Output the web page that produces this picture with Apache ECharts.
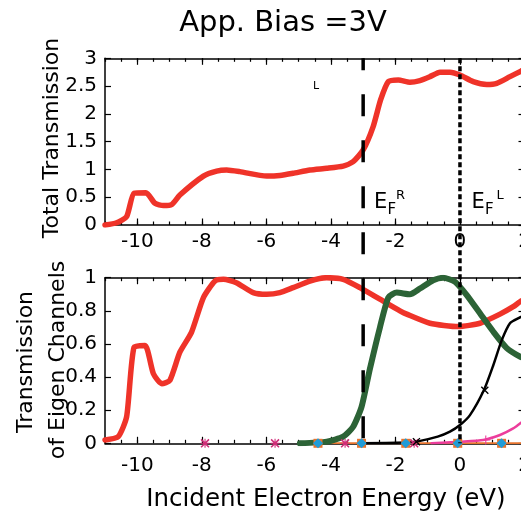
<!DOCTYPE html>
<html><head><meta charset="utf-8">
<script src="https://cdn.jsdelivr.net/npm/echarts@6/dist/echarts.min.js"></script>
<style>html,body{margin:0;padding:0;background:#fff}#c{width:521px;height:515px}</style>
</head><body><div id="c"></div>
<script>
// ---- tick labels ----
const xTickLabels = [-10, -8, -6, -4, -2, 0, 2];
const xRange = [-11, 2];
const topYRange = [0, 3];
const botYRange = [0, 1];

// ---- total transmission (top panel) ----
const totalX = [-11,-10.64,-10.33,-10.1,-9.73,-9.45,-9.19,-8.93,-8.68,-7.95,-7.54,-7.23,-6.82,-5.99,-5.58,-5.17,-4.65,-4.13,-3.62,-3.31,-3.0,-2.69,-2.46,-2.22,-1.91,-1.55,-1.24,-0.93,-0.62,-0.31,0,0.41,0.83,1.14,1.55,1.89,2];
const totalY = [0,0.04,0.15,0.57,0.58,0.39,0.35,0.37,0.54,0.88,0.97,0.99,0.96,0.88,0.89,0.93,0.99,1.02,1.06,1.14,1.35,1.77,2.25,2.58,2.61,2.57,2.6,2.67,2.75,2.75,2.7,2.58,2.53,2.55,2.67,2.77,2.8];

// ---- eigen channels (bottom panel) ----
const ch1X = [-11,-10.59,-10.33,-10.1,-9.76,-9.5,-9.24,-8.99,-8.68,-8.32,-7.95,-7.59,-7.33,-6.93,-6.41,-5.99,-5.58,-5.17,-4.65,-4.13,-3.62,-3.1,-2.48,-1.86,-1.65,-0.93,-0.05,0.62,1.24,1.65,1.86,2];
const ch1Y = [0.02,0.04,0.16,0.58,0.59,0.42,0.36,0.38,0.55,0.67,0.88,0.98,0.99,0.97,0.91,0.90,0.91,0.94,0.98,1.0,0.99,0.94,0.87,0.80,0.78,0.725,0.705,0.725,0.78,0.825,0.855,0.87];
const ch2X = [-4.96,-4.13,-3.62,-3.31,-3.05,-2.79,-2.48,-2.22,-1.96,-1.55,-1.24,-0.83,-0.52,-0.15,0.21,0.62,1.03,1.45,1.86,2];
const ch2Y = [0,0.01,0.04,0.10,0.22,0.45,0.70,0.88,0.91,0.90,0.935,0.985,1.0,0.975,0.895,0.785,0.675,0.575,0.523,0.515];
const ch3X = [-3.0,-1.65,-1.34,-0.69,-0.31,0,0.31,0.74,1.03,1.29,1.55,1.86,2];
const ch3Y = [0,0.005,0.01,0.04,0.07,0.11,0.17,0.32,0.47,0.62,0.725,0.76,0.775];
const ch4X = [-0.88,0,0.72,1.24,1.65,1.86,2];
const ch4Y = [0,0.01,0.02,0.05,0.09,0.12,0.14];
const ch5X = [-4.4,2];
const ch5Y = [0,0];
const squareX = [-4.4,-3.05,-1.68,-0.07,1.29];
const squareY = [0,0,0,0,0];
const asteriskX = [-7.9,-5.73,-3.56,-1.42];
const asteriskY = [0,0,0,0];
const crossX = [-1.35,0.77];
const crossY = [0.01,0.32];
const plusX = [0.8];
const plusY = [0.02];

// ---- Fermi levels ----
const efRight = -3;
const efLeft = 0;

const zip = (a, b) => a.map((v, i) => [v, b[i]]);
const FONT = 'DejaVu Sans';

function xAxesFor(grid, labelMargin) {
  const base = {type: 'value', gridIndex: grid, min: xRange[0], max: xRange[1], splitLine: {show: false}};
  return [
    Object.assign({}, base, {position: 'bottom',
      axisLine: {show: true, onZero: false, lineStyle: {color: '#000', width: 1.5}},
      axisTick: {show: true, inside: true, length: 6.5, customValues: xTickLabels, lineStyle: {color: '#000', width: 1.2}},
      axisLabel: {show: true, customValues: xTickLabels, margin: labelMargin, fontSize: 20, fontFamily: FONT, color: '#000'}}),
    Object.assign({}, base, {position: 'bottom', interval: 0.5,
      axisLine: {show: false, onZero: false},
      axisTick: {show: true, inside: true, length: 3.5, lineStyle: {color: '#000', width: 1.2}},
      axisLabel: {show: false}}),
    Object.assign({}, base, {position: 'top',
      axisLine: {show: true, onZero: false, lineStyle: {color: '#000', width: 1.5}},
      axisTick: {show: true, inside: true, length: 6.5, customValues: xTickLabels, lineStyle: {color: '#000', width: 1.2}},
      axisLabel: {show: false}}),
    Object.assign({}, base, {position: 'top', interval: 0.5,
      axisLine: {show: false, onZero: false},
      axisTick: {show: true, inside: true, length: 3.5, lineStyle: {color: '#000', width: 1.2}},
      axisLabel: {show: false}})
  ];
}
function yAxesFor(grid, range, interval) {
  const base = {type: 'value', gridIndex: grid, min: range[0], max: range[1], interval: interval, splitLine: {show: false}};
  return [
    Object.assign({}, base, {position: 'left',
      axisLine: {show: true, onZero: false, lineStyle: {color: '#000', width: 1.5}},
      axisTick: {show: true, inside: true, length: 6, lineStyle: {color: '#000', width: 1.2}},
      axisLabel: {show: true, margin: 8, fontSize: 20, fontFamily: FONT, color: '#000'}}),
    Object.assign({}, base, {position: 'right',
      axisLine: {show: true, onZero: false, lineStyle: {color: '#000', width: 1.5}},
      axisTick: {show: true, inside: true, length: 6, lineStyle: {color: '#000', width: 1.2}},
      axisLabel: {show: false}})
  ];
}

const P_CROSS = 'path://M0,1.2 L1.2,0 L10,8.8 L8.8,10 Z M8.8,0 L10,1.2 L1.2,10 L0,8.8 Z';
const P_PLUS = 'path://M4.4,0 L5.6,0 L5.6,10 L4.4,10 Z M0,4.4 L10,4.4 L10,5.6 L0,5.6 Z';
const P_AST = 'path://M0,1.2 L1.2,0 L10,8.8 L8.8,10 Z M8.8,0 L10,1.2 L1.2,10 L0,8.8 Z M4.4,0 L5.6,0 L5.6,10 L4.4,10 Z M0,4.4 L10,4.4 L10,5.6 L0,5.6 Z';

function line(data, color, width, xi, yi, z) {
  return {type: 'line', data: data, xAxisIndex: xi, yAxisIndex: yi, symbol: 'none', smooth: 0.2,
    lineStyle: {color: color, width: width, cap: 'round', join: 'round'}, z: z, silent: true, animation: false};
}
function markers(data, symbol, size, color, xi, yi, z) {
  return {type: 'scatter', data: data, xAxisIndex: xi, yAxisIndex: yi, symbol: symbol, symbolSize: size,
    itemStyle: {color: color, opacity: 1}, z: z, silent: true, animation: false};
}

const RED = '#ef3329', GREEN = '#2c6336', PINK = '#ec3d9c', ORANGE = '#e8742e', BLUE = '#1f9cd8', AST = '#d12c78';

const option = {
  animation: false,
  backgroundColor: '#fff',
  grid: [
    {left: 105, right: -3.5, top: 58.3, bottom: 290, containLabel: false, outerBoundsMode: 'none'},
    {left: 105, right: -3.5, top: 277.7, bottom: 71.7, containLabel: false, outerBoundsMode: 'none'},
    {left: 105, right: -3.5, top: 58.3, bottom: 71.7, containLabel: false, outerBoundsMode: 'none'}
  ],
  xAxis: [].concat(xAxesFor(0, 7), xAxesFor(1, 12), [{type: 'value', gridIndex: 2, min: xRange[0], max: xRange[1], show: false}]),
  yAxis: [].concat(yAxesFor(0, topYRange, 0.5), yAxesFor(1, botYRange, 0.2), [{type: 'value', gridIndex: 2, min: 0, max: 1, show: false}]),
  series: [
    line(zip(totalX, totalY), RED, 5.5, 0, 0, 3),
    {type: 'line', data: zip(ch5X, ch5Y), xAxisIndex: 4, yAxisIndex: 2, symbol: 'none', lineStyle: {color: ORANGE, width: 2}, z: 2, silent: true},
    line(zip(ch1X, ch1Y), RED, 5.5, 4, 2, 3),
    line(zip(ch2X, ch2Y), GREEN, 6, 4, 2, 4),
    line(zip(ch3X, ch3Y), '#000', 2.5, 4, 2, 5),
    line(zip(ch4X, ch4Y), PINK, 2.5, 4, 2, 5),
    markers(zip(asteriskX, asteriskY), P_AST, 9, AST, 4, 2, 6),
    markers(zip(crossX, crossY), P_CROSS, 8, '#000', 4, 2, 6),
    markers(zip(plusX, plusY), P_PLUS, 9, PINK, 4, 2, 6),
    markers(zip(squareX, squareY), 'rect', 9, ORANGE, 4, 2, 7),
    markers(zip(squareX, squareY), 'diamond', 10, BLUE, 4, 2, 8),
    {type: 'line', data: [[efRight, 1], [efRight, 0]], xAxisIndex: 8, yAxisIndex: 4, symbol: 'none',
      lineStyle: {color: '#000', width: 3.5, type: [22, 24], dashOffset: 10, cap: 'butt'}, z: 9, silent: true},
    {type: 'line', data: [[efLeft, 1], [efLeft, 0]], xAxisIndex: 8, yAxisIndex: 4, symbol: 'none',
      lineStyle: {color: '#000', width: 3.5, type: [5, 3], cap: 'butt'}, z: 9, silent: true}
  ],
  graphic: [
    {type: 'text', x: 283, y: 23, style: {text: 'App. Bias =3V', font: '29px "DejaVu Sans"', fill: '#000', textAlign: 'center', textVerticalAlign: 'middle'}},
    {type: 'text', x: 52, y: 138, rotation: Math.PI / 2, style: {text: 'Total Transmission', font: '22px "DejaVu Sans"', fill: '#000', textAlign: 'center', textVerticalAlign: 'middle'}},
    {type: 'text', x: 26.5, y: 362, rotation: Math.PI / 2, style: {text: 'Transmission', font: '22px "DejaVu Sans"', fill: '#000', textAlign: 'center', textVerticalAlign: 'middle'}},
    {type: 'text', x: 58, y: 360, rotation: Math.PI / 2, style: {text: 'of Eigen Channels', font: '22px "DejaVu Sans"', fill: '#000', textAlign: 'center', textVerticalAlign: 'middle'}},
    {type: 'text', x: 326, y: 500, style: {text: 'Incident Electron Energy (eV)', font: '24.5px "DejaVu Sans"', fill: '#000', textAlign: 'center', textVerticalAlign: 'middle'}},
    {type: 'text', x: 374, y: 202.7, style: {text: 'E', font: '21px "DejaVu Sans"', fill: '#000', textAlign: 'left', textVerticalAlign: 'middle'}},
    {type: 'text', x: 387.5, y: 210.2, style: {text: 'F', font: '15px "DejaVu Sans"', fill: '#000', textAlign: 'left', textVerticalAlign: 'middle'}},
    {type: 'text', x: 396, y: 195.4, style: {text: 'R', font: '13px "DejaVu Sans"', fill: '#000', textAlign: 'left', textVerticalAlign: 'middle'}},
    {type: 'text', x: 471.5, y: 202.7, style: {text: 'E', font: '21px "DejaVu Sans"', fill: '#000', textAlign: 'left', textVerticalAlign: 'middle'}},
    {type: 'text', x: 485, y: 210.2, style: {text: 'F', font: '15px "DejaVu Sans"', fill: '#000', textAlign: 'left', textVerticalAlign: 'middle'}},
    {type: 'text', x: 496.5, y: 195.4, style: {text: 'L', font: '13px "DejaVu Sans"', fill: '#000', textAlign: 'left', textVerticalAlign: 'middle'}},
    {type: 'text', x: 313, y: 86.5, style: {text: 'L', font: '11px "DejaVu Sans"', fill: '#000', textAlign: 'left', textVerticalAlign: 'middle'}}
  ]
};
const chart = echarts.init(document.getElementById('c'), null, {renderer: 'canvas'});
chart.setOption(option);
</script>
</body></html>
